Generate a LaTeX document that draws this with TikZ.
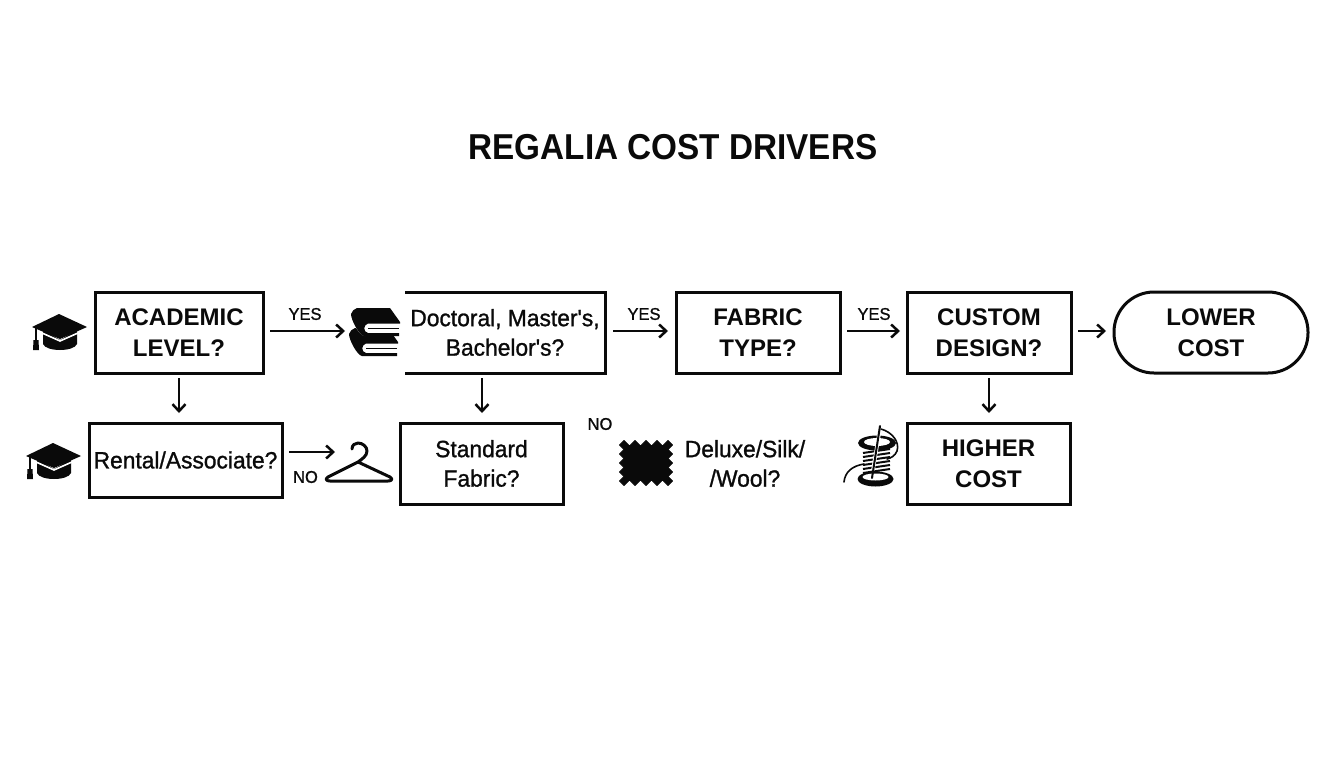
\documentclass[tikz,border=0pt]{standalone}
\usepackage{fontspec}
\setmainfont{Liberation Sans}
\newfontfamily\medfont{Liberation Sans}[FakeBold=1.1,FakeStretch=0.97]
\newfontfamily\headfont{Liberation Sans Bold}[FakeStretch=0.925]
\newfontfamily\capsfont{Liberation Sans Bold}[FakeStretch=1.0]
\usetikzlibrary{arrows.meta}
\definecolor{ink}{HTML}{0A0A0A}
\tikzset{
  x=1pt,y=-1pt,
  boxed/.style={draw=ink,line width=3pt,inner sep=0pt,outer sep=0pt,align=center,text=ink},
  plain/.style={inner sep=0pt,outer sep=0pt,align=center,text=ink},
  bigtxt/.style={font=\capsfont\fontsize{24}{31}\selectfont},
  medtxt/.style={font=\medfont\fontsize{23.5}{29.5}\selectfont},
  lab/.style={plain,font=\medfont\fontsize{17}{20}\selectfont},
  arr/.style={draw=ink,line width=2.5pt,-{Straight Barb[length=7pt,width=13pt,line width=2.5pt]}},
  bump/.style={fill=ink,draw=ink,line width=1pt,line join=round}
}
\newcommand{\capicon}[2]{%
 \begin{scope}[shift={(#1,#2)}]
  \fill[ink] (11,16) -- (11,30) .. controls (14,38) and (42,38) .. (45,30) -- (45,16) -- (28,26) -- cycle;
  \fill[ink] (0,13) -- (27,0) -- (55,13) -- (28,25) -- cycle;
  \draw[white,line width=1.6pt] (10,19) -- (28,27) -- (46,19);
  \draw[ink,line width=1.4pt] (4,14) -- (4,26);
  \fill[ink] (1.5,26) -- (6.5,26) -- (7,36) -- (1,36) -- cycle;
 \end{scope}}
\newcommand{\bookicon}[2]{%
 \begin{scope}[shift={(#1,#2)}]
  \fill[white] (6,0) -- (39,0) -- (49,14) -- (49,26) -- (14,28) .. controls (8,28) and (0,12) .. (0,6) -- cycle;
  \fill[ink] (6,0) -- (39,0) -- (49,14) -- (49,15.5) -- (17,15.5) .. controls (12,17) and (12,24) .. (17,25) -- (48,25) -- (48,28) -- (13,28) .. controls (8,27) and (0,12) .. (0,6) .. controls (1,3) and (3,1) .. (6,0) -- cycle;
  \draw[ink,line width=1.5pt] (17,20.3) -- (48,20.3);
 \end{scope}}
\newcommand{\bumpat}[2]{\path[bump] (#1-4.5,#2) -- (#1,#2-4.5) -- (#1+4.5,#2) -- (#1,#2+4.5) -- cycle;}
\begin{document}
\begin{tikzpicture}
\useasboundingbox[fill=white] (0,0) rectangle (1344,768);

\node[plain,font=\headfont\fontsize{36}{40}\selectfont] (title) at (673,147) {REGALIA COST DRIVERS};

% top row
\node[boxed,bigtxt,minimum width=168pt,minimum height=81pt] (acad) at (179,332.5) {ACADEMIC\\LEVEL?};
\node[plain,medtxt,minimum width=200pt,minimum height=81pt] (doct) at (505,332.5) {Doctoral, Master's,\\Bachelor's?};
\draw[ink,line width=3pt] (doct.north west) -- (doct.north east) -- (doct.south east) -- (doct.south west);
\node[boxed,bigtxt,minimum width=164pt,minimum height=81pt] (fabric) at (758,332.5) {FABRIC\\TYPE?};
\node[boxed,bigtxt,minimum width=164pt,minimum height=81pt] (custom) at (989,332.5) {CUSTOM\\DESIGN?};
\node[boxed,bigtxt,rounded corners=40pt,minimum width=194pt,minimum height=81pt] (lower) at (1211,332.5) {LOWER\\COST};

% bottom row
\node[boxed,medtxt,minimum width=193pt,minimum height=74pt] (rental) at (185.5,460) {Rental/Associate?};
\node[boxed,medtxt,minimum width=163pt,minimum height=81pt] (standard) at (481.5,463.5) {Standard\\Fabric?};
\node[plain,medtxt] (deluxe) at (745,463.5) {Deluxe/Silk/\\/Wool?};
\node[boxed,bigtxt,minimum width=163pt,minimum height=81pt] (higher) at (988.5,463.5) {HIGHER\\COST};

% icons
\capicon{32}{314}
\capicon{26}{443}
\bookicon{349}{328}
\bookicon{351}{308}
% hanger
\draw[ink,line width=3pt,line join=round,line cap=round] (352,449) .. controls (352,445) and (355,443) .. (358,443) .. controls (363,443) and (367,447) .. (367,451) .. controls (367,456) and (362,459) .. (358,462) -- (328,477) .. controls (325,479) and (326,481) .. (330,481) -- (388,481) .. controls (392,481) and (393,479) .. (390,477) -- (358,462);
% fabric swatch
\fill[ink] (624,445) rectangle (668,481);
\foreach \xx in {624,635,646,657,668}{\bumpat{\xx}{445}\bumpat{\xx}{481}}
\foreach \yy in {454,463,472}{\bumpat{624}{\yy}\bumpat{668}{\yy}}
% spool
\foreach \yy in {451,455,459,463,467,471}{\draw[ink,line width=2pt] (863,\yy+2) -- (890,\yy-2);}
\fill[ink] (877,443) ellipse [x radius=19pt,y radius=7.5pt];
\fill[white] (877,442) ellipse [x radius=13pt,y radius=4pt];
\fill[ink] (875.5,479) ellipse [x radius=18pt,y radius=7.5pt];
\fill[white] (875.5,477) ellipse [x radius=13pt,y radius=3.5pt];
\draw[white,line width=3.6pt] (879,434) -- (873,470);
\draw[ink,line width=2pt,line cap=round] (880,426) -- (872,478);
\draw[ink,line width=1.6pt,line cap=round] (881,429) .. controls (892,432) and (900,442) .. (897,451) .. controls (895,456) and (891,458) .. (887,459);
\draw[ink,line width=1.6pt,line cap=round] (844,482) .. controls (845,472) and (852,466) .. (864,464);

% arrows
\draw[arr] (acad.east) ++(7,-1.5) -- ++(75,0);
\draw[arr] (doct.east) ++(8,-1.5) -- ++(55,0);
\draw[arr] (fabric.east) ++(7,-1.5) -- ++(53,0);
\draw[arr] (custom.east) ++(7,-1.5) -- ++(28,0);
\draw[arr] (acad.south) ++(0,5) -- ++(0,35);
\draw[arr] (doct.south) ++(-23,5) -- ++(0,35);
\draw[arr] (custom.south) ++(0,5) -- ++(0,35);
\draw[arr] (rental.east) ++(7,-8) -- ++(46,0);

% labels
\node[lab] (y1) at (305,314) {YES};
\node[lab] (y2) at (644,314) {YES};
\node[lab] (y3) at (874,314) {YES};
\node[lab] (n1) at (305.5,477) {NO};
\node[lab] (n2) at (600,424) {NO};
\end{tikzpicture}
\end{document}
